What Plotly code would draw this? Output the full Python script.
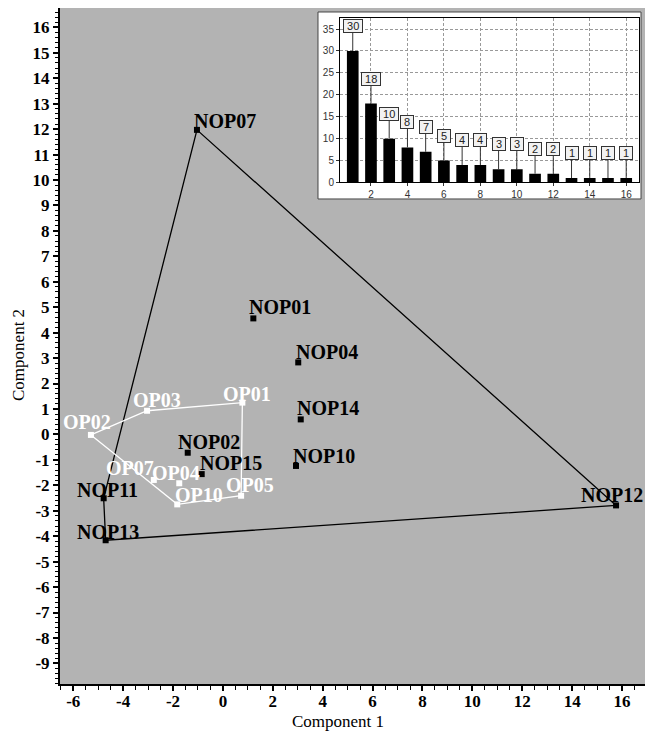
import plotly.graph_objects as go

# ---------------- data ----------------
nop_names = ["NOP07", "NOP01", "NOP04", "NOP14", "NOP10", "NOP02", "NOP15",
             "NOP11", "NOP13", "NOP12"]
nop_x = [-1.04, 1.22, 3.02, 3.12, 2.93, -1.41, -0.85, -4.78, -4.70, 15.76]
nop_y = [11.97, 4.56, 2.83, 0.59, -1.24, -0.72, -1.56, -2.51, -4.16, -2.79]

op_names = ["OP02", "OP03", "OP01", "OP05", "OP10", "OP04", "OP07"]
op_x = [-5.29, -3.04, 0.78, 0.73, -1.83, -1.75, -2.77]
op_y = [-0.02, 0.93, 1.25, -2.41, -2.75, -1.92, -1.79]

nop_hull = ["NOP07", "NOP12", "NOP13", "NOP11", "NOP07"]
op_hull = ["OP02", "OP03", "OP01", "OP05", "OP10", "OP02"]

x_ticks = [-6, -4, -2, 0, 2, 4, 6, 8, 10, 12, 14, 16]
y_ticks = list(range(-9, 17))

inset_x = list(range(1, 17))
inset_vals = [30, 18, 10, 8, 7, 5, 4, 4, 3, 3, 2, 2, 1, 1, 1, 1]

# ---------------- styling (label pixel offsets) ----------------
nop_shift = {"NOP07": (28, 9), "NOP01": (27, 11), "NOP04": (29, 10), "NOP14": (27, 11),
             "NOP10": (28, 10), "NOP02": (21, 11), "NOP15": (29, 11), "NOP11": (4, 8),
             "NOP13": (2, 8), "NOP12": (-4, 10)}
op_shift = {"OP02": (-4, 13), "OP03": (10, 11), "OP01": (5, 9), "OP05": (9, 11),
            "OP10": (22, 9), "OP04": (-3, 10), "OP07": (-24, 12)}

SERIF = "Liberation Serif, Times New Roman, serif"
SANS = "Liberation Sans, Arial, sans-serif"

fig = go.Figure()

nx = dict(zip(nop_names, nop_x)); ny = dict(zip(nop_names, nop_y))
ox = dict(zip(op_names, op_x)); oy = dict(zip(op_names, op_y))

fig.add_trace(go.Scatter(x=[nx[n] for n in nop_hull], y=[ny[n] for n in nop_hull],
                         mode="lines", line=dict(color="black", width=1.3),
                         hoverinfo="skip", showlegend=False))
fig.add_trace(go.Scatter(x=[ox[n] for n in op_hull], y=[oy[n] for n in op_hull],
                         mode="lines", line=dict(color="white", width=1.3),
                         hoverinfo="skip", showlegend=False))
fig.add_trace(go.Scatter(x=nop_x, y=nop_y, mode="markers",
                         marker=dict(symbol="square", size=6, color="black"),
                         showlegend=False))
fig.add_trace(go.Scatter(x=op_x, y=op_y, mode="markers",
                         marker=dict(symbol="square", size=6, color="white"),
                         showlegend=False))

annotations = []
for n, x, y in zip(nop_names, nop_x, nop_y):
    dx, dy = nop_shift[n]
    annotations.append(dict(x=x, y=y, xref="x", yref="y", text="<b>%s</b>" % n,
                            showarrow=False, xshift=dx, yshift=dy,
                            font=dict(family=SERIF, size=20, color="black")))
for n, x, y in zip(op_names, op_x, op_y):
    dx, dy = op_shift[n]
    annotations.append(dict(x=x, y=y, xref="x", yref="y", text="<b>%s</b>" % n,
                            showarrow=False, xshift=dx, yshift=dy,
                            font=dict(family=SERIF, size=20, color="white")))

# inset bars
fig.add_trace(go.Bar(x=inset_x, y=inset_vals, xaxis="x2", yaxis="y2",
                     marker=dict(color="black", line=dict(width=0)), width=0.64,
                     showlegend=False))
for x, v in zip(inset_x, inset_vals):
    annotations.append(dict(x=x, y=v, xref="x2", yref="y2", text=" %d " % v,
                            showarrow=True, arrowhead=0, arrowwidth=1, arrowcolor="#333",
                            ax=0, ay=-25, bgcolor="#f2f2f2", bordercolor="#333",
                            borderwidth=1, borderpad=0,
                            font=dict(family=SANS, size=11, color="#222")))

annotations.append(dict(x=0.4752, y=-0.0562, xref="paper", yref="paper",
                        xanchor="center", yanchor="middle",
                        text="Component 1", showarrow=False,
                        font=dict(family=SERIF, size=17, color="black")))
annotations.append(dict(x=-0.0701, y=0.4867, xref="paper", yref="paper",
                        xanchor="center", yanchor="middle",
                        text="Component 2", showarrow=False, textangle=-90,
                        font=dict(family=SERIF, size=17, color="black")))

shapes = [
    dict(type="rect", xref="paper", yref="paper", x0=0, x1=1, y0=0, y1=1,
         fillcolor="#b3b3b3", line=dict(width=0), layer="below"),
    dict(type="rect", xref="paper", yref="paper", x0=0.441, x1=0.9932, y0=0.7175, y1=0.9941,
         fillcolor="white", line=dict(color="#444", width=1), layer="below"),
]

tickfont = dict(family=SERIF, size=17, color="black")
fig.update_layout(
    width=645, height=735,
    margin=dict(l=60, r=0, t=8, b=51),
    paper_bgcolor="white", plot_bgcolor="white",
    font=dict(family=SERIF),
    showlegend=False,
    xaxis=dict(range=[-6.53, 16.92], tickmode="array", tickvals=x_ticks,
               ticktext=["<b>%d</b>" % t for t in x_ticks],
               ticks="outside", ticklen=5, tickwidth=1.5, tickcolor="black",
               ticklabelstandoff=-4,
               minor=dict(dtick=0.5, tick0=0, ticks="outside", ticklen=4, tickcolor="black", tickwidth=1),
               showline=True, linecolor="black", linewidth=2, showgrid=False,
               zeroline=False, tickfont=tickfont),
    yaxis=dict(range=[-9.81, 16.76], tickmode="array", tickvals=y_ticks,
               ticktext=["<b>%d</b>" % t for t in y_ticks],
               ticks="outside", ticklen=5, tickwidth=1.5, tickcolor="black",
               minor=dict(dtick=0.2, tick0=0, ticks="outside", ticklen=3, tickcolor="black", tickwidth=1),
               showline=True, linecolor="black", linewidth=2, showgrid=False,
               zeroline=False, tickfont=tickfont),
    xaxis2=dict(domain=[0.4786, 0.9897], anchor="y2", range=[0.3, 16.7],
                tick0=0, dtick=2, ticks="outside", ticklen=3, tickcolor="#333",
                showline=True, mirror=True, linecolor="black", linewidth=1,
                showgrid=True, gridcolor="#999", griddash="3px,2px", gridwidth=1,
                zeroline=False, tickfont=dict(family=SANS, size=10, color="#333")),
    yaxis2=dict(domain=[0.7419, 0.9857], anchor="x2", range=[0, 37.6],
                tick0=0, dtick=5, ticks="outside", ticklen=3, tickcolor="#333",
                showline=True, mirror=True, linecolor="black", linewidth=1,
                showgrid=True, gridcolor="#999", griddash="3px,2px", gridwidth=1,
                zeroline=False, tickfont=dict(family=SANS, size=10, color="#333")),
    annotations=annotations,
    shapes=shapes,
    bargap=0.3,
)

fig.write_html("out.html")
